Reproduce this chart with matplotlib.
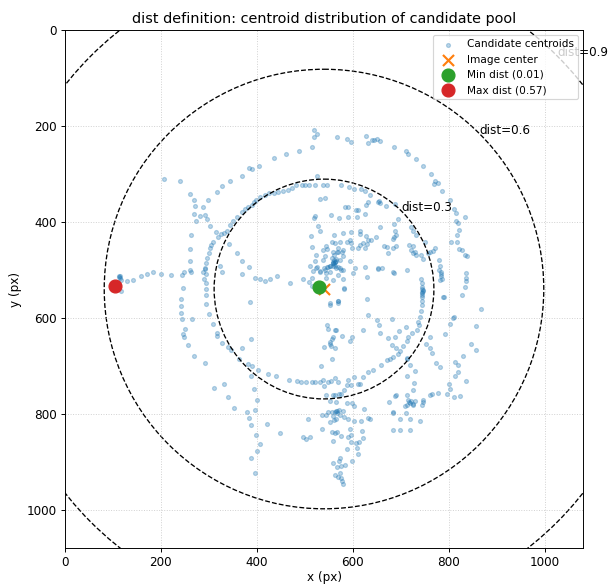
import numpy as np
import matplotlib
matplotlib.use("Agg")
import matplotlib.pyplot as plt

# image size and circle levels
W, H = 1080, 1080
cx, cy = W / 2, H / 2
levels = [0.3, 0.6, 0.9]

# candidate centroids (x, y) in px, grouped by region of the image
line_left = [
    (113, 512), (112, 515), (114, 516), (115, 513), (117, 521), (130, 524), (142, 521), (158, 513),
    (171, 509), (184, 504), (200, 508), (220, 511), (244, 510), (248, 505), (260, 500), (263, 505),
    (287, 505), (292, 499), (117, 545),
]
upper_left = [
    (519, 208), (526, 217), (519, 224), (514, 243), (488, 253), (460, 258), (435, 267), (404, 283),
    (390, 290), (383, 288), (368, 305), (344, 314), (328, 325), (316, 337), (299, 355), (260, 342),
    (268, 355), (272, 367), (288, 369), (268, 383), (281, 387), (292, 385), (273, 398), (296, 394),
    (303, 408), (206, 310), (240, 314), (263, 427), (260, 457), (260, 481), (246, 537),
    (525, 304), (522, 323), (508, 323), (501, 323), (494, 324), (482, 324), (473, 330), (464, 333),
    (455, 335), (444, 337), (436, 339), (426, 340), (417, 344), (406, 349), (399, 355), (394, 358),
    (389, 364), (382, 368), (376, 374), (368, 380), (359, 389), (351, 398), (345, 406), (337, 420),
    (331, 423), (325, 426), (319, 432), (315, 422), (309, 441), (305, 448), (302, 455), (300, 465),
    (296, 476), (294, 485), (291, 497), (293, 508), (290, 519), (294, 528), (538, 324), (546, 324),
    (532, 352), (543, 351),
    (342, 446), (359, 465), (369, 481), (383, 494), (324, 491), (328, 505), (368, 509), (396, 516),
    (406, 519), (416, 523), (428, 519), (443, 513), (469, 528), (497, 519), (509, 526), (514, 517),
    (516, 534), (521, 387), (519, 392), (527, 408), (532, 420), (512, 429), (514, 453), (537, 479),
    (543, 472), (547, 456), (526, 494), (532, 504), (541, 496), (524, 469), (510, 493), (521, 481),
    (538, 458), (545, 451), (547, 494), (545, 507), (545, 517), (531, 503), (524, 496), (517, 503),
    (542, 500), (549, 494),
]
upper_right = [
    (568, 224), (588, 228), (596, 233), (628, 222), (632, 236), (640, 229), (644, 229), (651, 228),
    (656, 231), (686, 244), (710, 252), (716, 258), (732, 269), (746, 283), (764, 300), (772, 315),
    (777, 320), (770, 321), (786, 336), (811, 373), (815, 382), (816, 398), (820, 403), (821, 416),
    (818, 427), (818, 441), (821, 456), (828, 458), (834, 469), (838, 472), (833, 390), (805, 443),
    (836, 507), (836, 516), (836, 524), (835, 535), (780, 480), (780, 500), (784, 509), (786, 520),
    (782, 521), (803, 354),
    (575, 324), (592, 327), (603, 331), (617, 331), (625, 335), (635, 345), (655, 356), (653, 358),
    (670, 367), (687, 363), (631, 358), (628, 364), (611, 375), (606, 375), (626, 383), (583, 368),
    (590, 368), (554, 385), (571, 392), (589, 389), (608, 390), (694, 394), (721, 410), (686, 405),
    (688, 420), (691, 427), (686, 431), (683, 436), (725, 419), (731, 427), (615, 420), (597, 421),
    (580, 423), (561, 427), (627, 430), (631, 437), (622, 444), (629, 446), (625, 455), (615, 448),
    (610, 455), (599, 455), (597, 444), (587, 441), (573, 441), (556, 442), (570, 455), (567, 463),
    (577, 462), (560, 469), (594, 482), (605, 496), (600, 507), (625, 494), (653, 496), (660, 496),
    (685, 507), (666, 451), (671, 453), (718, 448), (722, 458), (725, 465), (742, 469), (746, 477),
    (762, 462), (713, 500), (726, 450), (729, 462), (732, 469), (751, 443), (757, 465), (767, 460),
    (771, 455), (781, 493), (783, 505), (784, 512), (683, 505), (653, 499), (630, 514), (674, 465),
    (683, 455), (691, 451), (594, 437), (615, 426), (656, 361), (656, 410), (649, 431), (639, 437),
    (743, 520), (744, 528), (745, 535),
]
center_cluster = [
    (559, 483), (552, 493), (563, 492), (569, 495), (576, 500), (563, 444), (559, 462), (569, 462),
    (580, 458), (580, 472), (573, 479), (563, 483), (558, 485), (552, 492), (559, 493), (566, 496),
    (573, 496), (580, 500), (552, 505), (569, 510), (580, 519), (559, 521), (560, 480), (562, 484),
    (565, 482), (558, 486), (561, 488), (566, 478), (556, 476), (582, 538), (552, 569), (569, 566),
]
lower_left = [
    (241, 560), (242, 575), (242, 589), (243, 602), (251, 624), (245, 633), (249, 640), (257, 656),
    (269, 680), (291, 695), (264, 603),
    (294, 540), (294, 552), (295, 572), (301, 592), (309, 612), (316, 631), (317, 637), (327, 652),
    (340, 660), (346, 667), (363, 685), (381, 696), (390, 701), (403, 708), (387, 721), (424, 717),
    (440, 722), (466, 730), (483, 731), (493, 733), (503, 733), (514, 734), (522, 733), (531, 733),
    (537, 730), (549, 733), (555, 732), (563, 726), (569, 733),
    (311, 747), (331, 737), (339, 766), (353, 788), (380, 797), (383, 808), (387, 824), (398, 845),
    (406, 864), (401, 877), (387, 893), (397, 923), (394, 749), (401, 771), (396, 793), (422, 822),
    (449, 841), (497, 849), (502, 853), (510, 849), (506, 811), (370, 662), (386, 567), (387, 644),
]
lower_center = [
    (553, 574), (569, 565), (570, 569), (582, 540), (547, 615), (549, 623), (563, 625), (566, 625),
    (558, 640), (556, 644), (577, 637), (552, 651), (554, 658), (540, 660), (552, 655), (562, 662),
    (556, 685), (533, 701), (599, 641), (594, 649), (621, 626), (631, 595), (629, 560),
    (540, 743), (545, 760), (558, 760), (562, 760), (571, 759), (576, 758), (582, 750), (587, 740),
    (591, 729), (597, 740), (602, 724), (610, 738), (615, 737), (621, 724), (632, 714), (642, 708),
    (658, 699), (672, 687), (677, 685), (684, 681), (694, 676), (699, 670), (712, 683), (690, 663),
    (705, 658), (713, 649), (715, 641), (724, 632), (733, 625), (738, 616), (737, 608), (741, 599),
    (743, 585), (744, 574), (744, 565), (745, 556), (745, 547), (747, 544), (745, 540), (746, 543),
    (744, 548), (745, 552),
    (556, 797), (549, 797), (545, 802), (558, 804), (566, 795), (571, 792), (567, 799), (573, 803),
    (564, 810), (552, 817), (560, 814), (535, 803), (580, 794), (581, 806), (590, 811), (603, 815),
    (602, 783), (599, 778), (587, 777), (566, 776), (553, 773), (563, 797), (568, 794),
    (594, 832), (597, 845), (591, 848), (597, 858), (606, 861), (613, 859), (608, 872), (611, 885),
    (599, 898), (587, 873), (583, 906), (576, 910), (568, 911), (558, 902), (573, 892), (572, 899),
    (573, 924), (569, 931), (576, 933), (578, 941), (580, 947), (563, 927), (619, 835), (621, 851),
    (623, 790), (632, 809), (635, 812), (617, 816), (556, 838), (567, 839), (562, 840), (558, 856),
    (576, 847), (536, 832),
]
lower_right = [
    (651, 604), (655, 616), (656, 631), (674, 642), (681, 656), (687, 640), (681, 602), (710, 620),
    (697, 628), (760, 640), (752, 655), (760, 662), (766, 674), (773, 695), (781, 703), (791, 556),
    (810, 598), (828, 553), (867, 581), (856, 618), (847, 654), (857, 667), (830, 679), (814, 692),
    (819, 699), (820, 712), (814, 722), (837, 731), (800, 738), (797, 758), (802, 749), (812, 766),
    (823, 764), (778, 756), (766, 759), (760, 760), (747, 772), (745, 781), (726, 780), (722, 773),
    (727, 736), (726, 751), (712, 722), (730, 710), (720, 699), (712, 685), (788, 557), (803, 613),
    (809, 601), (792, 633),
    (712, 760), (715, 771), (720, 778), (726, 781), (713, 781), (708, 783), (729, 774), (718, 776),
    (691, 760), (687, 764), (676, 776), (684, 797), (683, 799), (699, 811), (719, 812), (741, 815),
    (720, 833), (699, 834), (683, 833), (710, 799), (747, 775),
]

min_pt = (530, 536)
max_pt = (105, 534)

pts = np.array(line_left + upper_left + upper_right + center_cluster
               + lower_left + lower_center + lower_right, dtype=float)

DPI = 86
fig = plt.figure(figsize=(608 / DPI, 585 / DPI), dpi=DPI)
ax = fig.add_axes([0.1069, 0.0632, 0.852, 0.8855])

ax.scatter(pts[:, 0], pts[:, 1], s=11, alpha=0.3, color="tab:blue", label="Candidate centroids")
ax.scatter([cx], [cy], marker="x", s=86, color="tab:orange", linewidths=1.8, label="Image center")
ax.scatter([min_pt[0]], [min_pt[1]], s=117, color="tab:green", label="Min dist (0.01)", zorder=4)
ax.scatter([max_pt[0]], [max_pt[1]], s=117, color="tab:red", label="Max dist (0.57)", zorder=4)

# circles of constant normalised distance (half diagonal = 1)
half_diag = np.hypot(cx, cy)
for d in levels:
    r = d * half_diag
    ax.add_patch(plt.Circle((cx, cy), r, fill=False, ls="--", color="black", lw=1.1))
    ax.text(cx + r * np.cos(np.pi / 4), cy - r * np.sin(np.pi / 4), f"dist={d}", fontsize=10)

ax.set_xlim(0, W)
ax.set_ylim(H, 0)
ax.set_aspect("equal")
ax.grid(True, linestyle=":", alpha=0.6)
ax.set_xlabel("x (px)", labelpad=1)
ax.set_ylabel("y (px)")
ax.set_title("dist definition: centroid distribution of candidate pool")
ax.legend(loc="upper right", fontsize=8.8)

fig.savefig("out.png", dpi=DPI)
